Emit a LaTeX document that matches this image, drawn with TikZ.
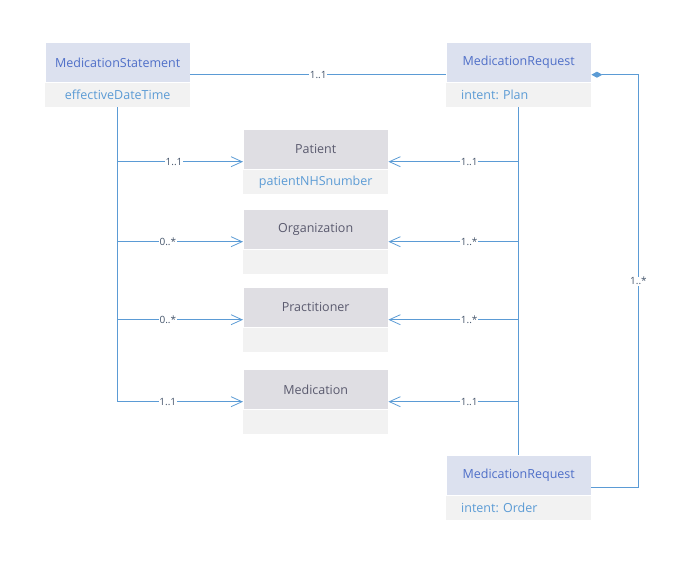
\documentclass[tikz,border=0pt]{standalone}
\usepackage{fontspec}
\setmainfont{Open Sans}
\usepackage{xcolor}
\usetikzlibrary{positioning,arrows.meta}
\frenchspacing

\definecolor{linkblue}{HTML}{5B9BD5}
\definecolor{headblue}{HTML}{DCE1EF}
\definecolor{headgray}{HTML}{DFDEE3}
\definecolor{attrgray}{HTML}{F2F2F2}
\definecolor{titleblue}{HTML}{4F6FC8}
\definecolor{titlegray}{HTML}{5A5A6E}
\definecolor{cardtext}{HTML}{44546A}

\begin{document}
\begin{tikzpicture}[
  x=1pt, y=-1pt,
  klass/.style={rectangle, fill=attrgray, minimum width=145pt, minimum height=65pt, anchor=north west, inner sep=0pt},
  head/.style={rectangle, fill=#1, draw=white, line width=0.8pt, minimum width=145pt, minimum height=40pt, anchor=north, inner sep=0pt, font=\fontsize{12.5}{14}\selectfont},
  attr/.style={rectangle, minimum width=145pt, minimum height=24pt, anchor=south, inner sep=0pt, text=linkblue, font=\fontsize{12.5}{14}\selectfont},
  assoc/.style={draw=linkblue, line width=0.8pt},
  arrow/.style={assoc, -{Straight Barb[length=11pt,width=10pt]}},
  card/.style={fill=white, inner sep=0.6pt, text=cardtext, font=\fontsize{10}{11}\selectfont}
]
\useasboundingbox (0,0) rectangle (696,564);

% MedicationStatement
\node[klass] (ms) at (45,42) {};
\node[head=headblue, text=titleblue] (msHead) at (ms.north) {MedicationStatement};
\node[attr] (msAttr) at (ms.south) {effectiveDateTime};

% MedicationRequest (plan)
\node[klass] (mrp) at (446,42) {};
\node[head=headblue, text=titleblue] (mrpHead) at (mrp.north) {MedicationRequest};
\node[attr, text width=115pt, align=left] (mrpAttr) at (mrp.south) {intent: Plan};

% resources in the middle
\node[klass] (pat) at (243,129) {};
\node[head=headgray, text=titlegray] (patHead) at (pat.north) {Patient};
\node[attr] (patAttr) at (pat.south) {patientNHSnumber};

\node[klass] (org) at (243,209) {};
\node[head=headgray, text=titlegray] (orgHead) at (org.north) {Organization};

\node[klass] (prac) at (243,287) {};
\node[head=headgray, text=titlegray] (pracHead) at (prac.north) {Practitioner};

\node[klass] (med) at (243,369) {};
\node[head=headgray, text=titlegray] (medHead) at (med.north) {Medication};

% MedicationRequest (order)
\node[klass] (ord) at (446,455) {};
\node[head=headblue, text=titleblue] (ordHead) at (ord.north) {MedicationRequest};
\node[attr, text width=115pt, align=left] (ordAttr) at (ord.south) {intent: Order};

% statement side
\draw[assoc] (ms.east) -- node[card] {1..1} (mrp.west);
\draw[assoc] (ms.south) -- (ms.south |- med.west);
\draw[arrow] (ms.south |- pat.west) -- node[card, pos=.45] {1..1} (pat.west);
\draw[arrow] (ms.south |- org.west) -- node[card, pos=.4] {0..*} (org.west);
\draw[arrow] (ms.south |- prac.west) -- node[card, pos=.4] {0..*} (prac.west);
\draw[arrow] (ms.south |- med.west) -- node[card, pos=.4] {1..1} (med.west);

% request side
\draw[assoc] (mrp.south) -- (ord.north);
\draw[arrow] (mrp.south |- pat.east) -- node[card, pos=.38] {1..1} (pat.east);
\draw[arrow] (mrp.south |- org.east) -- node[card, pos=.38] {1..*} (org.east);
\draw[arrow] (mrp.south |- prac.east) -- node[card, pos=.38] {1..*} (prac.east);
\draw[arrow] (mrp.south |- med.east) -- node[card, pos=.38] {1..1} (med.east);

\coordinate (elbow) at ([xshift=47pt]mrp.east);
\draw[assoc, {Diamond[length=11pt,width=6pt]}-] (mrp.east) -- (elbow) |- node[card, pos=.25] {1..*} (ord.east);
\end{tikzpicture}
\end{document}
